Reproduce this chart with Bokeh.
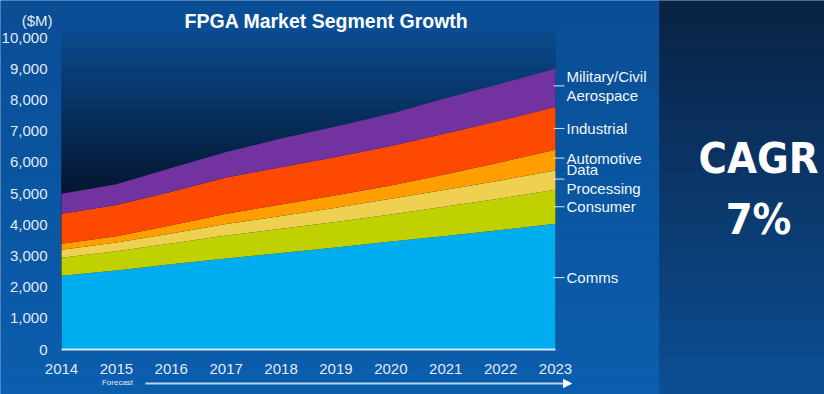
import numpy as np
from bokeh.plotting import figure
from bokeh.models import ColumnDataSource, Label, Arrow, NormalHead, Range1d
from bokeh.embed import file_html
from bokeh.resources import INLINE
from bokeh.core.properties import value

# ---------------- data ($M) ----------------
years = [2014, 2015, 2016, 2017, 2018, 2019, 2020, 2021, 2022, 2023]
comms = [2360, 2530, 2730, 2920, 3090, 3270, 3460, 3640, 3830, 4030]
consumer = [580, 620, 670, 730, 780, 820, 870, 940, 1010, 1090]
data_processing = [260, 280, 320, 370, 410, 450, 500, 540, 580, 620]
automotive = [190, 200, 260, 330, 370, 400, 430, 500, 580, 660]
industrial = [960, 1000, 1080, 1160, 1190, 1230, 1260, 1300, 1340, 1370]
military_aero = [640, 670, 760, 820, 920, 980, 1040, 1130, 1180, 1230]

segments = ["Comms", "Consumer", "Data Processing", "Automotive",
            "Industrial", "Military/Civil Aerospace"]
segment_labels = [["Comms"], ["Consumer"], ["Data", "Processing"], ["Automotive"],
                  ["Industrial"], ["Military/Civil", "Aerospace"]]
colors = ["#00adee", "#bfd200", "#f0d050", "#ff9e00", "#fe4a00", "#7232a0"]
y_ticks = [0, 1000, 2000, 3000, 4000, 5000, 6000, 7000, 8000, 9000, 10000]
title_text = "FPGA Market Segment Growth"
unit_text = "($M)"
forecast_text = "Forecast"
cagr_lines = ["CAGR", "7%"]

series = [comms, consumer, data_processing, automotive, industrial, military_aero]
src = ColumnDataSource(dict(year=years, **{n: v for n, v in zip(segments, series)}))

FONT = "Liberation Sans"
TXT = "#e2eaf3"

# ---------------- layout constants (pixels of the 824x394 canvas) ----------------
W, H = 824, 394
PX_X0, PX_X1 = 61, 555      # pixel x of first / last year
PX_Y0, PX_Y1 = 349, 37      # pixel y (from top) of 0 / 10000
label_nudge_px = [9, 0, 1, 2, 0, 2]   # upward nudge of the series labels
sx = (PX_X1 - PX_X0) / (years[-1] - years[0])
sy = (PX_Y0 - PX_Y1) / (y_ticks[-1] - y_ticks[0])
def dx(px):
    return years[0] + (px - PX_X0) / sx
def dy(py):
    return y_ticks[0] + (PX_Y0 - py) / sy

p = figure(width=W, height=H, x_range=Range1d(dx(0), dx(W)),
           y_range=Range1d(dy(H), dy(0)), output_backend="svg",
           toolbar_location=None, min_border=0)
p.axis.visible = False
p.grid.visible = False
p.outline_line_color = None
p.background_fill_color = "#0a57a2"
p.border_fill_color = "#0a57a2"

def mix(c1, c2, t):
    a = [int(c1[i:i + 2], 16) for i in (1, 3, 5)]
    b = [int(c2[i:i + 2], 16) for i in (1, 3, 5)]
    return "#%02x%02x%02x" % tuple(int(round(a[k] + (b[k] - a[k]) * t)) for k in range(3))

def gradient(left, right, top, bottom, c_top, c_bot, n=30):
    edges = np.linspace(top, bottom, n + 1)
    cols = [mix(c_top, c_bot, i / (n - 1)) for i in range(n)]
    p.quad(left=[left] * n, right=[right] * n, top=edges[:-1], bottom=edges[1:],
           fill_color=cols, line_color=cols, line_width=0.5)

# panels (decoration)
gradient(dx(0), dx(659), dy(0), dy(H), "#0a4e95", "#0b5eae")
gradient(dx(659), dx(W), dy(0), dy(H), "#0a2244", "#0c4e92")
gradient(years[0], years[-1], dy(30), dy(200), "#0b4a8c", "#04142c")
gradient(years[0], years[-1], dy(200), y_ticks[0], "#04142c", "#04142c", n=2)

# stacked areas
p.varea_stack(stackers=segments, x="year", color=colors, source=src)

# axes (drawn through the scales)
p.line(x=[years[0], years[-1]], y=[y_ticks[0]] * 2, line_color="#d4e6f7", line_width=2)
p.text(x=[dx(47)] * len(y_ticks), y=y_ticks, text=[f"{v:,}" for v in y_ticks],
       text_align="right", text_baseline="middle", text_color=TXT,
       text_font=value(FONT), text_font_size="15px")
p.text(x=years, y=[dy(368)] * len(years), text=[str(y) for y in years],
       text_align="center", text_baseline="middle", text_color=TXT,
       text_font=value(FONT), text_font_size="15px")

# title & unit
p.add_layout(Label(x=dx(326), y=dy(20), text=title_text, text_align="center",
                   text_baseline="middle", text_color="#ffffff", text_font=FONT,
                   text_font_style="bold", text_font_size="19.5px"))
p.add_layout(Label(x=dx(52), y=dy(20), text=unit_text, text_align="right",
                   text_baseline="middle", text_color=TXT, text_font=FONT,
                   text_font_size="15px"))

# series labels at the middle of each band in the last year
cum = np.cumsum(np.array(series), axis=0)
last = cum[:, -1]
prev = np.concatenate([[0], last[:-1]])
mids = (last + prev) / 2.0
for mid, lines, nudge in zip(mids, segment_labels, label_nudge_px):
    ym = float(mid) + nudge / sy
    p.line(x=[dx(553), dx(564)], y=[ym, ym], line_color="#dbe7f3", line_width=1)
    if len(lines) == 1:
        p.add_layout(Label(x=dx(566), y=ym, text=lines[0],
                           text_align="left", text_baseline="middle",
                           text_color="#f2f6fa", text_font=FONT,
                           text_font_size="15px"))
    else:
        p.add_layout(Label(x=dx(566), y=ym, text=lines[0], y_offset=1,
                           text_align="left", text_baseline="bottom",
                           text_color="#f2f6fa", text_font=FONT,
                           text_font_size="15px"))
        p.add_layout(Label(x=dx(566), y=ym, text=lines[1], y_offset=-1,
                           text_align="left", text_baseline="top",
                           text_color="#f2f6fa", text_font=FONT,
                           text_font_size="15px"))

# forecast arrow
p.add_layout(Label(x=dx(117), y=dy(382), text=forecast_text, text_align="center",
                   text_baseline="middle", text_color=TXT, text_font=FONT,
                   text_font_size="8px"))
p.add_layout(Arrow(x_start=dx(145), y_start=dy(383), x_end=dx(571), y_end=dy(383),
                   line_color="#b8d3ee", line_width=2,
                   end=NormalHead(size=8, fill_color="#ffffff",
                                  line_color="#ffffff")))

# CAGR
for txt, py in zip(cagr_lines, [157, 218]):
    p.add_layout(Label(x=dx(758), y=dy(py), text=txt, text_align="center",
                       text_baseline="middle", text_color="#ffffff",
                       text_font="DejaVu Sans Condensed",
                       text_font_style="bold", text_font_size="43px"))

open("out.html", "w").write(file_html(p, INLINE))
